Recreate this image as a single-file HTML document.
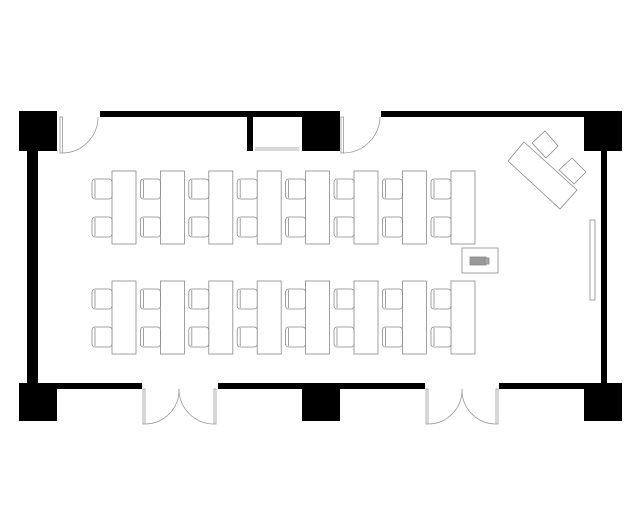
<!DOCTYPE html>
<html><head><style>html,body{margin:0;padding:0;background:#fff}svg{display:block}</style></head>
<body>
<svg width="639" height="532" viewBox="0 0 639 532" xmlns="http://www.w3.org/2000/svg">
<rect width="639" height="532" fill="#fff"/>
<g fill="#000">
<rect x="19" y="111" width="38" height="40"/>
<rect x="302" y="111" width="38" height="40"/>
<rect x="584" y="111" width="38" height="40"/>
<rect x="19" y="383" width="38" height="38"/>
<rect x="302" y="383" width="38" height="38"/>
<rect x="584" y="383" width="38" height="38"/>
<rect x="100" y="111" width="202" height="6"/>
<rect x="247" y="111" width="6" height="40"/>
<rect x="381" y="111" width="210" height="6"/>
<rect x="27" y="151" width="11" height="232"/>
<rect x="601" y="151" width="6" height="232"/>
<rect x="38" y="383" width="104" height="6"/>
<rect x="218" y="383" width="207" height="6"/>
<rect x="499" y="383" width="102" height="6"/>
</g>
<g fill="none" stroke="#999" stroke-width="0.8">
<line x1="255" y1="148" x2="299" y2="148"/><line x1="255" y1="150" x2="299" y2="150"/>
<rect x="60" y="117" width="2.5" height="36"/>
<path d="M62 153 A36 36 0 0 0 98 117"/>
<rect x="341" y="117" width="2.5" height="36"/>
<path d="M343 153 A37 37 0 0 0 380 117"/>
<rect x="143" y="389" width="2" height="35"/>
<path d="M145 424 A34 34 0 0 0 179 389"/>
<rect x="214" y="389" width="2" height="35"/>
<path d="M214 424 A35 35 0 0 1 179 389"/>
<rect x="426" y="389" width="2" height="35"/>
<path d="M428 424 A34 34 0 0 0 462 389"/>
<rect x="496" y="389" width="2" height="35"/>
<path d="M496 424 A34 34 0 0 1 462 389"/>
</g>
<defs>
<g id="unit" fill="#fff" stroke="#888" stroke-width="0.8">
<rect x="20" y="0" width="24" height="73"/>
<rect x="0" y="8" width="20" height="20" rx="3"/>
<line x1="3" y1="9" x2="3" y2="27"/>
<rect x="0" y="46" width="20" height="20" rx="3"/>
<line x1="3" y1="47" x2="3" y2="65"/>
</g>
</defs>
<g>
<use href="#unit" x="92" y="171"/><use href="#unit" x="140.4" y="171"/><use href="#unit" x="188.8" y="171"/><use href="#unit" x="237.2" y="171"/>
<use href="#unit" x="285.6" y="171"/><use href="#unit" x="334" y="171"/><use href="#unit" x="382.4" y="171"/><use href="#unit" x="431" y="171"/>
<use href="#unit" x="92" y="281"/><use href="#unit" x="140.4" y="281"/><use href="#unit" x="188.8" y="281"/><use href="#unit" x="237.2" y="281"/>
<use href="#unit" x="285.6" y="281"/><use href="#unit" x="334" y="281"/><use href="#unit" x="382.4" y="281"/><use href="#unit" x="431" y="281"/>
</g>
<g fill="#fff" stroke="#888" stroke-width="0.8">
<rect x="462" y="248" width="36" height="25"/>
<rect x="470" y="257" width="16" height="8" fill="#999"/>
<rect x="485" y="258" width="4" height="6" fill="#aaa"/>
<rect x="590" y="220" width="5" height="80"/>
<polygon points="532,143 545,131 558,146 546,158"/>
<polygon points="559,170 572,158 586,172 574,184"/>
<polygon points="524,142 577,190 560,209 508,161"/>
</g>
</svg>
</body></html>
